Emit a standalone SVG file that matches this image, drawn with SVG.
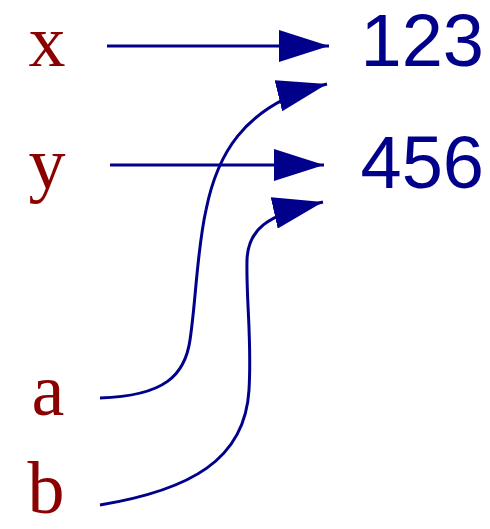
<svg xmlns="http://www.w3.org/2000/svg" width="490" height="529" viewBox="0 0 490 529">
<style>
.var{font-family:"Liberation Serif","DejaVu Serif",serif;font-size:74px;fill:#8B0000;text-anchor:middle}
.val{font-family:"Liberation Sans","DejaVu Sans",sans-serif;font-size:74px;fill:#00008B;text-anchor:end}
.edge{fill:none;stroke:#00008B;stroke-width:3;marker-end:url(#ah)}
</style>
<defs>
<marker id="ah" markerUnits="userSpaceOnUse" viewBox="0 0 50 32" markerWidth="50" markerHeight="32" refX="50" refY="16" orient="auto">
<path d="M0,0 L50,16 L0,32 z" fill="#00008B"/>
</marker>
</defs>
<g id="x"><text class="var" x="47" y="66">x</text></g>
<g id="y"><text class="var" x="47" y="188">y</text></g>
<g id="a"><text class="var" x="48" y="415">a</text></g>
<g id="b"><text class="var" x="46" y="513">b</text></g>
<g id="v123"><text class="val" x="484" y="66">123</text></g>
<g id="v456"><text class="val" x="484" y="188">456</text></g>
<g id="connectors">
<path class="edge" d="M107,46 L329,46"/>
<path class="edge" d="M110,165 L324,165"/>
<path class="edge" d="M100,398 C165,396 185,375 190,340 C196,300 197,250 206,210 C216,160 240,105 327,84"/>
<path class="edge" d="M100,505 C190,490 245,460 249,390 C252,340 246,300 247,260 C248,230 265,215 323,202"/>
</g>
</svg>
